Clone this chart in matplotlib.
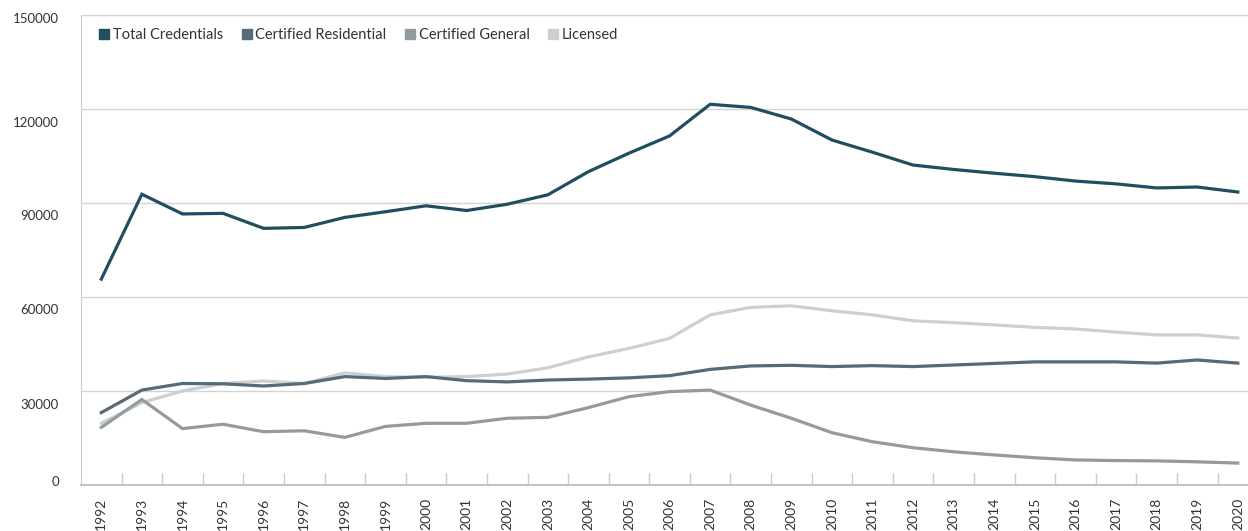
import matplotlib.pyplot as plt
from matplotlib.lines import Line2D
from matplotlib.transforms import ScaledTranslation

years = list(range(1992, 2021))

total = [65700, 92800, 86500, 86700, 81900, 82200, 85400, 87200, 89100, 87600,
         89600, 92600, 100000, 105900, 111400, 121500, 120500, 116800, 110100, 106200,
         102100, 100700, 99500, 98400, 97000, 96100, 94800, 95100, 93500]
residential = [23100, 30300, 32400, 32300, 31600, 32400, 34600, 34000, 34600, 33300,
               32900, 33500, 33800, 34200, 34900, 36900, 38000, 38200, 37800, 38100,
               37800, 38300, 38800, 39300, 39300, 39300, 38900, 39900, 38900]
general = [18400, 27300, 18000, 19400, 17000, 17300, 15200, 18700, 19700, 19700,
           21300, 21600, 24700, 28200, 29800, 30300, 25500, 21300, 16700, 13800,
           11900, 10600, 9600, 8700, 8000, 7800, 7700, 7400, 7000]
licensed = [19700, 26300, 30000, 32400, 33200, 32400, 35800, 34600, 34400, 34600,
            35400, 37400, 40900, 43600, 46800, 54300, 56700, 57200, 55600, 54300,
            52400, 51800, 51100, 50300, 49800, 48800, 47900, 47900, 46900]

yticks = [0, 30000, 60000, 90000, 120000, 150000]

names = ['Total Credentials', 'Certified Residential', 'Certified General', 'Licensed']
colors = ['#1f4e5f', '#566b77', '#939ba0', '#cbd0d2']

plt.rcParams['font.family'] = ['Lato', 'DejaVu Sans']

fig = plt.figure(figsize=(12.48, 5.31), dpi=100)
ax = fig.add_axes([0.0649, 0.0866, 0.9351, 0.8852])

x = list(range(len(years)))
series = [total, residential, general, licensed]
# draw lightest first so the total line sits on top
for vals, c in reversed(list(zip(series, colors))):
    ax.plot(x, vals, color=c, lw=2.3, solid_joinstyle='miter', zorder=3)

ax.set_xlim(-0.5, 28.25)
ax.set_ylim(0, 150000)

ax.set_yticks(yticks)
ax.set_yticklabels([str(v) for v in yticks])
ax.grid(axis='y', color='#d4d4d4', lw=1)
ax.set_axisbelow(True)

ax.set_xticks(x)
ax.set_xticklabels([str(y) for y in years], rotation=90, va='top')
ax.set_xticks([i + 0.5 for i in x[:-1]], minor=True)
ax.tick_params(axis='x', which='major', length=0, pad=9, labelsize=10, labelcolor='#333333')
ax.tick_params(axis='x', which='minor', direction='in', length=9, color='#cccccc', width=1)
ax.tick_params(axis='y', length=0, pad=16, labelsize=9.5, labelcolor='#333333')

# y labels sit just under their gridlines, first and last nudged inside
shifts = {0: 4, 30000: -13, 60000: -12, 90000: -12, 120000: -13, 150000: -3}
for lab, v in zip(ax.get_yticklabels(), yticks):
    lab.set_transform(lab.get_transform() + ScaledTranslation(0, shifts[v] / 100, fig.dpi_scale_trans))

ax.spines['right'].set_visible(False)
ax.spines['top'].set_color('#d4d4d4')
ax.spines['left'].set_color('#cccccc')
ax.spines['bottom'].set_color('#c4c4c4')
ax.spines['bottom'].set_linewidth(1.5)

handles = [Line2D([], [], marker='s', ls='none', color=c, markersize=7.5) for c in colors]
ax.legend(handles, names, loc='upper left', bbox_to_anchor=(0.005, 1.0), ncol=4, frameon=False,
          fontsize=10.5, handlelength=0.6, handletextpad=0.3, columnspacing=1.3,
          labelcolor='#333333')

fig.savefig('out.png', dpi=100)
